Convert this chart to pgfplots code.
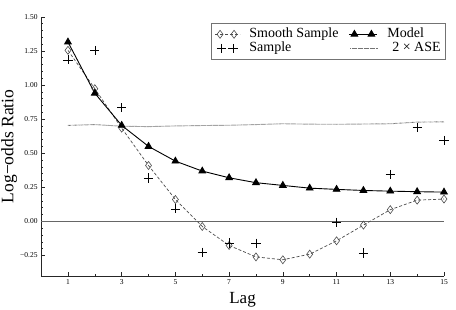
\documentclass[border=0pt]{standalone}
\usepackage{pgfplots}
\pgfplotsset{compat=1.18}
\usepackage{fontspec}
\setmainfont{Liberation Serif}

\pgfplotsset{
  legsmooth/.style={legend image code/.code={\draw[mark indices={2,3}, ##1] plot coordinates {(3pt,0pt) (8pt,0pt) (22pt,0pt) (28pt,0pt)};}},
  legmodel/.style={legend image code/.code={\draw[mark indices={2,3}, ##1] plot coordinates {(0pt,0pt) (5.5pt,0pt) (22.5pt,0pt) (28pt,0pt)};}},
  legsample/.style={legend image code/.code={\draw[##1] plot coordinates {(9.5pt,0pt) (21pt,0pt)};}},
  legase/.style={legend image code/.code={\draw[##1] (1.5pt,0pt) -- (29pt,0pt);}},
}

\pgfplotstableread{
lag smooth model sample ase
1  1.254  1.315  1.185  0.704
2  0.973  0.940  1.254  0.710
3  0.684  0.704  0.834  0.698
4  0.410  0.550  0.318  0.695
5  0.161  0.442  0.093  0.700
6  -0.037 0.369  -0.225 0.703
7  -0.176 0.320  -0.158 0.705
8  -0.260 0.284  -0.159 0.710
9  -0.281 0.264  nan    0.716
10 -0.240 0.244  nan    0.713
11 -0.142 0.235  -0.005 0.712
12 -0.027 0.227  -0.232 0.714
13 0.086  0.222  0.345  0.716
14 0.156  0.218  0.687  0.728
15 0.164  0.215  0.594  0.730
}\datatable

\begin{document}
\begin{tikzpicture}[x=1pt,y=1pt]
\useasboundingbox (0,0) rectangle (456,309);
\begin{axis}[
  at={(41.1pt,33pt)}, anchor=south west,
  scale only axis, width=402.9pt, height=259.2pt,
  xmin=0, xmax=15, ymin=-0.4, ymax=1.5,
  axis x line*=bottom, axis y line*=left,
  axis line style={line width=1pt, black!85, -},
  xtick={1,3,5,7,9,11,13,15}, minor xtick={2,4,6,8,10,12,14},
  ytick={-0.25,0,0.25,0.5,0.75,1,1.25,1.5},
  yticklabels={−0.25,0.00,0.25,0.50,0.75,1.00,1.25,1.50},
  minor y tick num=4,
  major tick length=4pt, minor tick length=2.2pt,
  tick style={line width=0.6pt, black!85},
  tick label style={font=\fontsize{7.5}{9}\selectfont},
  /pgf/number format/assume math mode=true,
  xlabel={Lag},
  ylabel={Log−odds Ratio},
  xlabel style={font=\fontsize{17}{20}\selectfont, at={(axis description cs:0.5,-0.108)}, anchor=base},
  ylabel style={font=\fontsize{17.5}{20}\selectfont, at={(axis description cs:-0.069,0.5)}, anchor=base},
  legend columns=2,
  legend cell align=left,
  legend style={at={(axis description cs:1.004,0.977)}, anchor=north east,
    draw=black!55, line width=0.8pt, fill=white,
    font=\fontsize{14}{15}\selectfont,
    inner sep=3.5pt, row sep=-1pt,
    nodes={inner sep=1pt, text height=10pt, text depth=3.2pt},
    /tikz/every odd column/.append style={column sep=8pt},
    /tikz/every even column/.append style={column sep=9pt}},
  clip=true,
]
\addplot[black!60, line width=0.6pt, forget plot] coordinates {(0,0) (15,0)};
\addplot[black!70, dashed, dash pattern=on 3pt off 2pt, line width=0.7pt,
  mark=diamond, mark size=4pt, mark options={solid, fill=white, draw=black!70, line width=0.6pt},
  legsmooth]
  table[x=lag, y=smooth] {\datatable};
\addlegendentry{Smooth Sample}
\addplot[black, line width=0.9pt, mark=triangle*, mark size=3.8pt, mark options={solid, fill=black}, legmodel]
  table[x=lag, y=model] {\datatable};
\addlegendentry{Model}
\addplot[only marks, black, mark=+, mark size=4.6pt, mark options={line width=0.45pt}, legsample, unbounded coords=discard]
  table[x=lag, y=sample] {\datatable};
\addlegendentry{Sample}
\addplot[black!55, dotted, line width=0.9pt, dash pattern=on 0.6pt off 0.6pt, legase]
  table[x=lag, y=ase] {\datatable};
\addlegendentry{\hspace*{5pt}2 × ASE}
\end{axis}
\end{tikzpicture}
\end{document}
